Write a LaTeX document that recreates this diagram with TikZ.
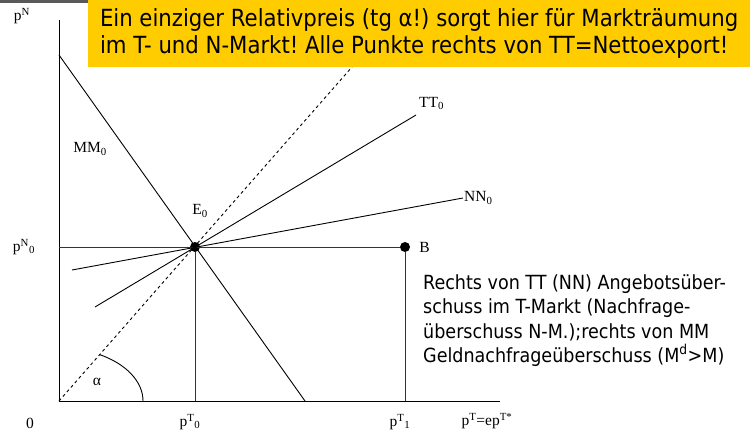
\documentclass[tikz,border=0pt]{standalone}
\usepackage{fontspec}
\setmainfont{Liberation Serif}
\newfontfamily\notefont{DejaVu Sans Condensed}
\usetikzlibrary{positioning,calc}
\definecolor{notebg}{RGB}{255,204,0}
\frenchspacing

\begin{document}
\begin{tikzpicture}[x=1pt, y=-1pt,
    curve/.style={black, line width=0.9pt},
    guide/.style={black!80, line width=0.9pt},
    dot/.style={circle, fill=black, inner sep=0pt, minimum size=10pt},
    lbl/.style={font=\fontsize{15.5}{18}\selectfont, inner sep=1pt},
    note/.style={fill=notebg, anchor=north west, inner sep=0pt, align=left, font=\notefont\fontsize{23.6}{27.5}\selectfont}
]
\useasboundingbox (0,0) rectangle (753,435);
\fill[black!65] (0,0) rectangle (88,3);

% Axes
\coordinate (O) at (59,401);
\coordinate (ytop) at (59,20);
\coordinate (xend) at (500,401);
\draw[curve] (ytop) -- (O) -- (xend);

% Equilibrium and point B
\node[dot] (E0) at (195,247) {};
\node[dot] (B) at (405,247) {};
\coordinate (yE) at (O |- E0);
\coordinate (xE) at (E0 |- O);
\coordinate (xB) at (B |- O);
\draw[guide] (yE) -- (B);
\draw[guide] (E0) -- (xE);
\draw[guide] (B) -- (xB);

% Curves
\coordinate (MMa) at (59,55);
\coordinate (MMb) at (305,401);
\coordinate (TTa) at (95,307);
\coordinate (TTb) at (416,115);
\coordinate (NNa) at (72,270);
\coordinate (NNb) at (463,198);
\foreach \a/\b in {MMa/MMb, TTa/TTb, NNa/NNb} {
    \draw[curve] (\a) -- (\b);
}
\coordinate (dtop) at (352,67);
\draw[curve, dash pattern=on 3pt off 3pt] (O) -- (dtop);

% Angle
\coordinate (arcA) at (143,401);
\draw[curve] (arcA) arc[start angle=0, end angle=-60.8, x radius=84, y radius=53];

% Labels
\node[lbl] (pN) at (22,16) {p\textsuperscript{N}};
\node[lbl] (pN0) at (24,247) {p\textsuperscript{N}\textsubscript{0}};
\node[lbl] (zero) at (30,423) {0};
\node[lbl] (pT0) at (190,422) {p\textsuperscript{T}\textsubscript{0}};
\node[lbl] (pT1) at (400,422) {p\textsuperscript{T}\textsubscript{1}};
\node[lbl] (pTe) at (487,421) {p\textsuperscript{T}=ep\textsuperscript{T*}};
\node[lbl] (MMlab) at (90,149) {MM\textsubscript{0}};
\node[lbl] (E0lab) at (200,211) {E\textsubscript{0}};
\node[lbl, above right=4pt and 2pt of TTb] (TTlab) {TT\textsubscript{0}};
\node[lbl, right=0pt of NNb] (NNlab) {NN\textsubscript{0}};
\node[lbl, right=8pt of B] (Blab) {B};
\node[lbl] (alab) at (97,382) {α};

% Notes
\node[note, minimum width=662pt, minimum height=67pt] (head) at (88,0)
    {Ein einziger Relativpreis (tg α!) sorgt hier für Markträumung\\
     im T- und N-Markt! Alle Punkte rechts von TT=Nettoexport!};
\node[note, fill=none, font=\notefont\fontsize{19.5}{24.5}\selectfont] (remark) at (423,274)
    {Rechts von TT (NN) Angebotsüber-\\
     schuss im T-Markt (Nachfrage-\\
     überschuss N-M.);rechts von MM\\
     Geldnachfrageüberschuss (M\textsuperscript{d}>M)};

\end{tikzpicture}
\end{document}
